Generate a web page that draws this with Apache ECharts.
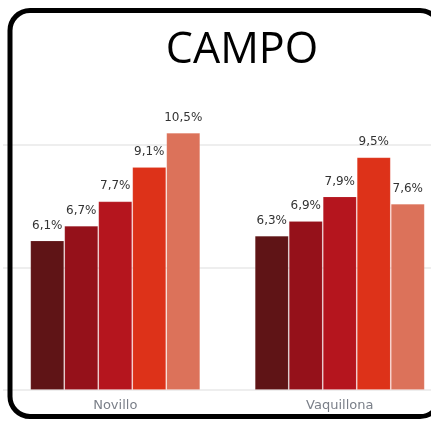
<!DOCTYPE html>
<html>
<head>
<meta charset="utf-8">
<script src="https://cdn.jsdelivr.net/npm/echarts@6/dist/echarts.min.js"></script>
<style>
  html, body { margin: 0; padding: 0; background: #fff; }
  #chart { width: 431px; height: 422px; }
</style>
</head>
<body>
<div id="chart"></div>
<script>
const categories = ['Novillo', 'Vaquillona'];
const seriesNames = ['Serie 1', 'Serie 2', 'Serie 3', 'Serie 4', 'Serie 5'];
const serie1 = [6.1, 6.3];
const serie2 = [6.7, 6.9];
const serie3 = [7.7, 7.9];
const serie4 = [9.1, 9.5];
const serie5 = [10.5, 7.6];

const colors = ['#5f1416', '#95111a', '#b5151e', '#dd3219', '#dc725a'];
const values = [serie1, serie2, serie3, serie4, serie5];

const myChart = echarts.init(document.getElementById('chart'));

const fmt = (p) => p.value.toFixed(1).replace('.', ',') + '%';

const option = {
  animation: false,
  grid: { left: 3, width: 449, top: 96, bottom: 32, outerBoundsMode: 'none', containLabel: false },
  xAxis: {
    type: 'category',
    data: categories,
    axisLine: { show: false },
    axisTick: { show: false },
    axisLabel: {
      color: '#7a7f88',
      fontFamily: 'DejaVu Sans',
      fontSize: 13,
      margin: 9
    }
  },
  yAxis: {
    type: 'value',
    min: 0,
    max: 12,
    interval: 5,
    axisLabel: { show: false },
    axisLine: { show: false },
    axisTick: { show: false },
    splitLine: {
      showMaxLine: false,
      lineStyle: { color: '#e8e8e8', width: 1.5 }
    }
  },
  series: values.map((v, i) => ({
    name: seriesNames[i],
    type: 'bar',
    data: v,
    barWidth: 34,
    barGap: '0%',
    itemStyle: {
      color: colors[i],
      borderColor: 'rgba(255,255,255,0.12)',
      borderWidth: 1
    },
    label: {
      show: true,
      position: 'top',
      distance: 9,
      color: '#333',
      fontFamily: 'DejaVu Sans',
      fontSize: 12,
      formatter: fmt
    }
  })),
  graphic: [
    {
      type: 'rect',
      z: 100,
      shape: { x: 10, y: 10.5, width: 430, height: 406, r: 20 },
      style: { fill: 'none', stroke: '#000', lineWidth: 5 }
    },
    {
      type: 'text',
      z: 100,
      x: 242,
      y: 51,
      style: {
        text: 'CAMPO',
        font: '43px "Open Sans"',
        fill: '#000',
        align: 'center',
        verticalAlign: 'middle'
      }
    }
  ]
};

option && myChart.setOption(option);
</script>
</body>
</html>
